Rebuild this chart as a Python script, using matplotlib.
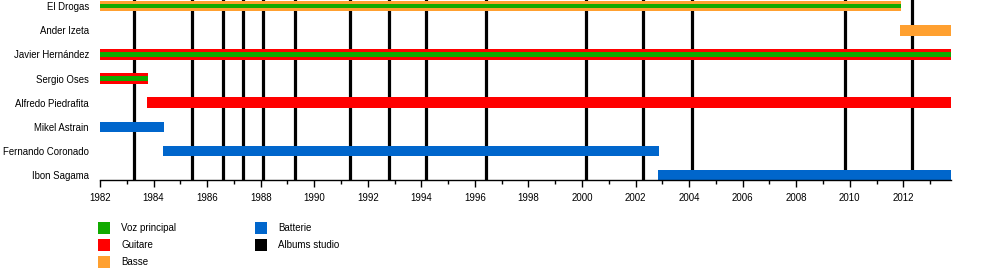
import matplotlib.pyplot as plt
from matplotlib.patches import Rectangle
from matplotlib.ticker import MultipleLocator

plt.rcParams['font.family'] = ['Liberation Sans', 'DejaVu Sans']

members = ['El Drogas', 'Ander Izeta', 'Javier Hernández', 'Sergio Oses',
           'Alfredo Piedrafita', 'Mikel Astrain', 'Fernando Coronado', 'Ibon Sagama']

# (member, start, end, role) -- main bars
bars = [
    ('El Drogas', 1982.0, 2011.9, 'Basse'),
    ('Ander Izeta', 2011.87, 2013.78, 'Basse'),
    ('Javier Hernández', 1982.0, 2013.78, 'Guitare'),
    ('Sergio Oses', 1982.0, 1983.78, 'Guitare'),
    ('Alfredo Piedrafita', 1983.75, 2013.78, 'Guitare'),
    ('Mikel Astrain', 1982.0, 1984.39, 'Batterie'),
    ('Fernando Coronado', 1984.35, 2002.87, 'Batterie'),
    ('Ibon Sagama', 2002.84, 2013.78, 'Batterie'),
]
# thin stripes (vocals)
stripes = [
    ('El Drogas', 1982.0, 2011.9, 'Voz principal'),
    ('Javier Hernández', 1982.0, 2013.78, 'Voz principal'),
    ('Sergio Oses', 1982.0, 1983.78, 'Voz principal'),
]

albums = [1983.27, 1985.45, 1986.59, 1987.35, 1988.1, 1989.29, 1991.35, 1992.78,
          1994.18, 1996.43, 2000.14, 2002.26, 2004.12, 2009.83, 2012.31]

colors = {
    'Voz principal': '#11aa00',
    'Guitare': '#ff0000',
    'Basse': '#ffa030',
    'Batterie': '#0066cc',
    'Albums studio': '#000000',
}
legend_order = ['Voz principal', 'Guitare', 'Basse', 'Batterie', 'Albums studio']

fig = plt.figure(figsize=(10, 2.8), dpi=100)
ax = fig.add_axes([0.1, 0.357, 0.851, 0.643])

row = {m: i for i, m in enumerate(members)}

for x in albums:
    ax.axvline(x, color='black', lw=2.3, zorder=1)

for m, s, e, r in bars:
    ax.barh(row[m], e - s, left=s, height=0.44, color=colors[r], lw=0, zorder=2)
for m, s, e, r in stripes:
    ax.barh(row[m], e - s, left=s, height=0.19, color=colors[r], lw=0, zorder=3)

ax.set_xlim(1982, 2013.78)
ax.set_ylim(7.2, -0.25)
ax.set_yticks(range(len(members)))
ax.set_yticklabels(members, fontsize=6.9)
ax.tick_params(axis='y', length=0, pad=8)
ax.xaxis.set_major_locator(MultipleLocator(2))
ax.xaxis.set_minor_locator(MultipleLocator(1))
ax.tick_params(axis='x', which='major', length=5, width=1, labelsize=7, pad=4)
ax.tick_params(axis='x', which='minor', length=3, width=1)
for side in ['top', 'right', 'left']:
    ax.spines[side].set_visible(False)
ax.spines['bottom'].set_linewidth(1)

# legend, two columns
for i, name in enumerate(legend_order):
    col, r = divmod(i, 3)
    x0 = 0.098 + col * 0.157
    y0 = 1 - (222 + r * 17 + 12) / 280
    fig.add_artist(Rectangle((x0, y0), 0.012, 12 / 280, color=colors[name],
                             transform=fig.transFigure, lw=0))
    fig.text(x0 + 0.023, y0 + 6 / 280, name, fontsize=7, va='center')

fig.savefig('out.png', dpi=100)
